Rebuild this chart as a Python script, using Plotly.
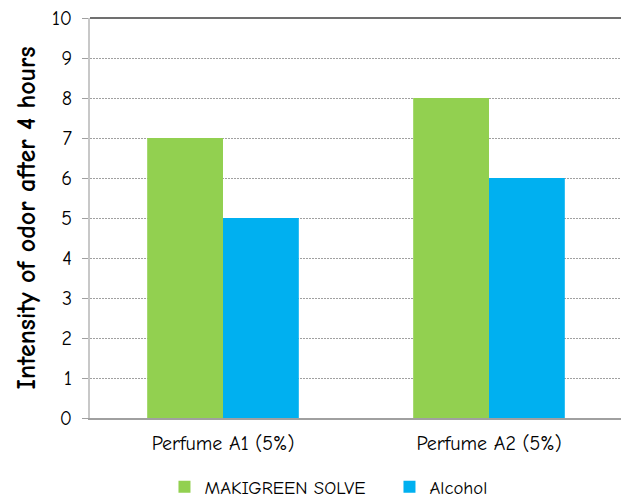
import plotly.graph_objects as go

categories = ["Perfume A1 (5%)", "Perfume A2 (5%)"]
makigreen = [7, 8]
alcohol = [5, 6]
y_ticks = [0, 1, 2, 3, 4, 5, 6, 7, 8, 9, 10]

FONT = "Comic Sans MS, Comic Neue, DejaVu Sans, sans-serif"

fig = go.Figure()
fig.add_trace(go.Bar(x=categories, y=makigreen, name="MAKIGREEN SOLVE",
                     marker=dict(color="#92D050", line=dict(width=0))))
fig.add_trace(go.Bar(x=categories, y=alcohol, name="Alcohol",
                     marker=dict(color="#00B0F0", line=dict(width=0))))

fig.update_layout(
    width=621, height=490,
    margin=dict(l=82, r=7, t=10, b=80, autoexpand=False),
    paper_bgcolor="white", plot_bgcolor="white",
    barmode="group", bargap=0.43, bargroupgap=0,
    font=dict(family=FONT, size=18, color="black"),
    showlegend=True,
    legend=dict(orientation="h", x=0.14, xanchor="left", y=-0.1725, yanchor="middle",
                font=dict(size=18.7), entrywidth=180, entrywidthmode="pixels",
                tracegroupgap=0),
    xaxis=dict(showline=True, linecolor="#A0A0A0", linewidth=1.5, ticks="",
               tickfont=dict(size=20), showgrid=False, automargin=False,
               ticklabelstandoff=6),
    yaxis=dict(range=[0, 10], tickvals=y_ticks, showgrid=True, gridcolor="#A0A0A0",
               griddash="2px,1px", gridwidth=1, showline=True, linecolor="#C8C8C8",
               linewidth=2, ticks="outside", ticklen=6, tickcolor="#A0A0A0",
               tickfont=dict(size=20), zeroline=False, automargin=False,
               ticklabelstandoff=6, ticklabeloverflow="allow",
               title=dict(text="<b>Intensity of odor after 4 hours</b>",
                          font=dict(size=26), standoff=9)),
    shapes=[
        dict(type="line", xref="paper", yref="paper", x0=0, x1=1, y0=1, y1=1,
             line=dict(color="#404040", width=1.5)),
        dict(type="line", xref="paper", yref="paper", x0=1, x1=1, y0=0, y1=1,
             line=dict(color="#909090", width=2)),
    ],
)

fig.write_html("out.html")
